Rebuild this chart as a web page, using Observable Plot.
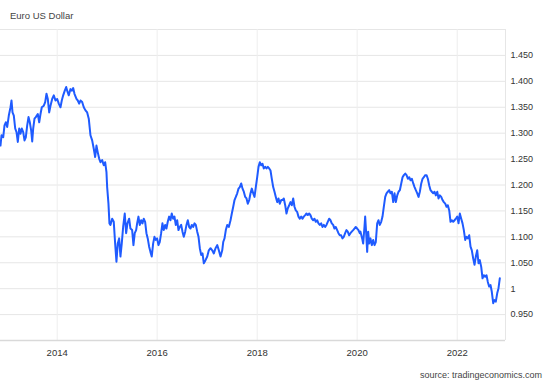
<!DOCTYPE html>
<html><head><meta charset="utf-8">
<script src="https://cdn.jsdelivr.net/npm/d3@7"></script>
<script src="https://cdn.jsdelivr.net/npm/@observablehq/plot@0.6"></script>
<style>
body{margin:0;background:#fff;}
#wrap{position:relative;width:550px;height:382px;font-family:"Liberation Sans",Arial,sans-serif;overflow:hidden;}
#title{position:absolute;left:10px;top:10.5px;font-size:9.5px;line-height:1;color:#444;}
#source{position:absolute;right:8px;top:370.5px;font-size:9px;line-height:1;color:#444;}
</style></head>
<body><div id="wrap"></div>
<script>
const title = "Euro US Dollar";
const source = "source: tradingeconomics.com";
const xStart = 2012.866, xEnd = 2022.966;
const xTicks = [2014, 2016, 2018, 2020, 2022];
const yTicks = [0.95, 1.0, 1.05, 1.1, 1.15, 1.2, 1.25, 1.3, 1.35, 1.4, 1.45];
const yGrid = [0.95, 1.0, 1.05, 1.1, 1.15, 1.2, 1.25, 1.3, 1.35, 1.4, 1.45, 1.5];
const yBase = 0.9;
// decimal-year dates of the series
const years = [
2012.866,2012.886,2012.920,2012.946,2012.972,2013.000,2013.032,2013.066,2013.086,2013.106,2013.132,2013.160,2013.186,2013.212,2013.240,2013.266,2013.292,2013.320,2013.346,2013.372,
2013.400,2013.426,2013.452,2013.480,2013.500,2013.520,2013.546,2013.572,2013.612,2013.640,2013.666,2013.692,2013.732,2013.760,2013.786,2013.812,2013.840,2013.866,2013.900,2013.932,
2013.966,2014.000,2014.032,2014.066,2014.092,2014.120,2014.152,2014.180,2014.200,2014.232,2014.266,2014.292,2014.320,2014.346,2014.386,2014.412,2014.440,2014.466,2014.500,2014.532,
2014.566,2014.600,2014.632,2014.666,2014.700,2014.732,2014.760,2014.786,2014.812,2014.840,2014.866,2014.900,2014.932,2014.960,2014.986,2015.000,2015.026,2015.046,2015.066,2015.100,
2015.132,2015.160,2015.186,2015.212,2015.240,2015.266,2015.292,2015.320,2015.352,2015.380,2015.406,2015.440,2015.466,2015.500,2015.526,2015.552,2015.580,2015.600,2015.626,2015.652,
2015.680,2015.706,2015.732,2015.760,2015.786,2015.812,2015.840,2015.866,2015.892,2015.920,2015.946,2015.972,2016.000,2016.026,2016.052,2016.080,2016.106,2016.132,2016.160,2016.186,
2016.212,2016.240,2016.266,2016.292,2016.320,2016.346,2016.372,2016.400,2016.426,2016.452,2016.480,2016.506,2016.532,2016.560,2016.586,2016.612,2016.640,2016.666,2016.692,2016.720,
2016.746,2016.772,2016.800,2016.826,2016.852,2016.880,2016.906,2016.932,2016.966,2017.000,2017.032,2017.066,2017.100,2017.132,2017.166,2017.200,2017.232,2017.266,2017.300,2017.320,
2017.346,2017.372,2017.400,2017.432,2017.466,2017.492,2017.520,2017.546,2017.572,2017.600,2017.626,2017.652,2017.680,2017.706,2017.732,2017.760,2017.786,2017.812,2017.840,2017.866,
2017.892,2017.920,2017.946,2017.972,2018.000,2018.026,2018.052,2018.080,2018.106,2018.132,2018.160,2018.186,2018.212,2018.240,2018.266,2018.292,2018.320,2018.346,2018.372,2018.400,
2018.426,2018.452,2018.480,2018.506,2018.532,2018.560,2018.586,2018.612,2018.640,2018.666,2018.692,2018.720,2018.746,2018.772,2018.800,2018.826,2018.852,2018.880,2018.906,2018.932,
2018.960,2018.986,2019.012,2019.040,2019.066,2019.092,2019.120,2019.146,2019.172,2019.200,2019.226,2019.252,2019.280,2019.306,2019.332,2019.360,2019.386,2019.412,2019.440,2019.466,
2019.492,2019.520,2019.546,2019.572,2019.600,2019.626,2019.652,2019.680,2019.706,2019.732,2019.760,2019.786,2019.812,2019.840,2019.866,2019.892,2019.920,2019.946,2019.972,2020.000,
2020.026,2020.052,2020.066,2020.100,2020.120,2020.146,2020.160,2020.180,2020.200,2020.220,2020.240,2020.266,2020.292,2020.320,2020.346,2020.372,2020.400,2020.426,2020.452,2020.480,
2020.506,2020.532,2020.560,2020.586,2020.612,2020.640,2020.666,2020.692,2020.720,2020.746,2020.772,2020.800,2020.826,2020.852,2020.880,2020.906,2020.932,2020.960,2020.986,2021.012,
2021.040,2021.066,2021.092,2021.120,2021.146,2021.172,2021.200,2021.226,2021.252,2021.280,2021.306,2021.332,2021.360,2021.386,2021.412,2021.440,2021.466,2021.492,2021.520,2021.546,
2021.572,2021.600,2021.626,2021.652,2021.680,2021.706,2021.732,2021.760,2021.786,2021.812,2021.840,2021.866,2021.892,2021.920,2021.946,2021.972,2022.000,2022.026,2022.052,2022.080,
2022.106,2022.132,2022.160,2022.186,2022.212,2022.240,2022.266,2022.292,2022.320,2022.346,2022.372,2022.400,2022.426,2022.452,2022.480,2022.506,2022.532,2022.560,2022.586,2022.612,
2022.640,2022.666,2022.692,2022.720,2022.746,2022.772,2022.800,2022.826,2022.852
];
// EUR/USD rate at each date
const rates = [
1.276,1.296,1.292,1.315,1.321,1.312,1.334,1.350,1.363,1.340,1.334,1.309,1.302,1.283,1.309,1.299,1.309,1.302,1.286,1.292,
1.315,1.331,1.321,1.305,1.284,1.309,1.328,1.331,1.337,1.321,1.337,1.350,1.353,1.360,1.376,1.366,1.340,1.353,1.366,1.373,
1.363,1.366,1.357,1.350,1.363,1.373,1.382,1.389,1.382,1.373,1.385,1.382,1.387,1.376,1.366,1.363,1.357,1.363,1.360,1.350,
1.344,1.340,1.328,1.296,1.286,1.270,1.254,1.276,1.263,1.251,1.244,1.248,1.238,1.244,1.225,1.196,1.164,1.126,1.123,1.135,
1.129,1.087,1.052,1.087,1.097,1.062,1.087,1.119,1.145,1.107,1.126,1.135,1.116,1.113,1.084,1.107,1.113,1.126,1.139,1.123,
1.132,1.126,1.135,1.129,1.107,1.097,1.081,1.071,1.062,1.087,1.100,1.094,1.097,1.084,1.090,1.107,1.126,1.113,1.123,1.116,
1.129,1.139,1.132,1.145,1.135,1.139,1.123,1.132,1.113,1.119,1.123,1.110,1.100,1.110,1.123,1.132,1.119,1.116,1.123,1.119,
1.126,1.123,1.110,1.100,1.078,1.065,1.068,1.049,1.055,1.062,1.074,1.078,1.074,1.068,1.078,1.084,1.074,1.062,1.074,1.090,
1.097,1.113,1.123,1.119,1.132,1.145,1.158,1.171,1.177,1.184,1.193,1.196,1.203,1.193,1.187,1.177,1.174,1.164,1.171,1.184,
1.193,1.184,1.177,1.196,1.215,1.235,1.244,1.238,1.241,1.232,1.235,1.232,1.235,1.232,1.228,1.212,1.196,1.187,1.177,1.167,
1.174,1.164,1.171,1.171,1.174,1.161,1.145,1.155,1.161,1.167,1.161,1.174,1.158,1.151,1.148,1.139,1.135,1.139,1.135,1.139,
1.142,1.145,1.142,1.145,1.142,1.135,1.132,1.135,1.129,1.132,1.126,1.123,1.126,1.119,1.123,1.119,1.123,1.129,1.135,1.132,
1.126,1.123,1.116,1.119,1.113,1.107,1.103,1.103,1.097,1.100,1.107,1.113,1.110,1.103,1.107,1.110,1.113,1.116,1.119,1.116,
1.113,1.107,1.110,1.097,1.087,1.119,1.139,1.107,1.071,1.110,1.087,1.097,1.084,1.094,1.084,1.090,1.126,1.132,1.123,1.129,
1.139,1.158,1.177,1.184,1.187,1.190,1.184,1.187,1.167,1.184,1.167,1.180,1.187,1.190,1.203,1.215,1.219,1.222,1.219,1.212,
1.215,1.209,1.212,1.203,1.196,1.190,1.184,1.177,1.187,1.203,1.212,1.215,1.219,1.219,1.212,1.199,1.190,1.187,1.184,1.187,
1.180,1.187,1.174,1.180,1.177,1.171,1.167,1.164,1.158,1.161,1.151,1.129,1.132,1.129,1.132,1.135,1.139,1.126,1.145,1.135,
1.126,1.113,1.094,1.100,1.097,1.103,1.081,1.074,1.058,1.046,1.062,1.074,1.049,1.055,1.042,1.020,1.026,1.023,1.026,1.013,
1.004,1.007,0.994,0.972,0.978,0.975,0.991,1.001,1.020
];

const toDate = y => {
  const yr = Math.floor(y);
  const s = Date.UTC(yr, 0, 1), e = Date.UTC(yr + 1, 0, 1);
  return new Date(s + (y - yr) * (e - s));
};
const data = years.map((y, i) => ({date: toDate(y), rate: rates[i]}));
const fmtY = d => d === 1 ? "1" : d3.format(".3f")(d);

const chart = Plot.plot({
  width: 550, height: 382,
  marginLeft: 0, marginRight: 45, marginTop: 29, marginBottom: 42,
  style: {fontFamily: "'Liberation Sans', Arial, sans-serif", fontSize: "9.5px", color: "#333", background: "#fff"},
  x: {type: "utc", domain: [toDate(xStart), toDate(xEnd)]},
  y: {domain: [yBase, 1.5]},
  marks: [
    Plot.ruleY(yGrid, {stroke: "#e6e6e6", strokeWidth: 1}),
    Plot.ruleX(xTicks.map(toDate), {stroke: "#eeeeee", strokeWidth: 1}),
    Plot.ruleX([toDate(xEnd)], {stroke: "#e6e6e6", strokeWidth: 1}),
    Plot.ruleY([yBase], {stroke: "#d9d9d9", strokeWidth: 1.5}),
    Plot.axisY({ticks: yTicks, anchor: "right", tickSize: 0, tickPadding: 5, textAnchor: "start", tickFormat: fmtY, label: null, fontSize: 9, fill: "#333"}),
    Plot.axisX({ticks: xTicks.map(toDate), anchor: "bottom", tickSize: 0, tickPadding: 9, tickFormat: d3.utcFormat("%Y"), label: null, fontSize: 9.5, fill: "#333"}),
    Plot.line(data, {x: "date", y: "rate", stroke: "#1f5bff", strokeWidth: 2, strokeLinejoin: "round"})
  ]
});
const wrap = document.getElementById("wrap");
wrap.appendChild(chart);
const t = document.createElement("div"); t.id = "title"; t.textContent = title; wrap.appendChild(t);
const s = document.createElement("div"); s.id = "source"; s.textContent = source; wrap.appendChild(s);
</script>
</body></html>
